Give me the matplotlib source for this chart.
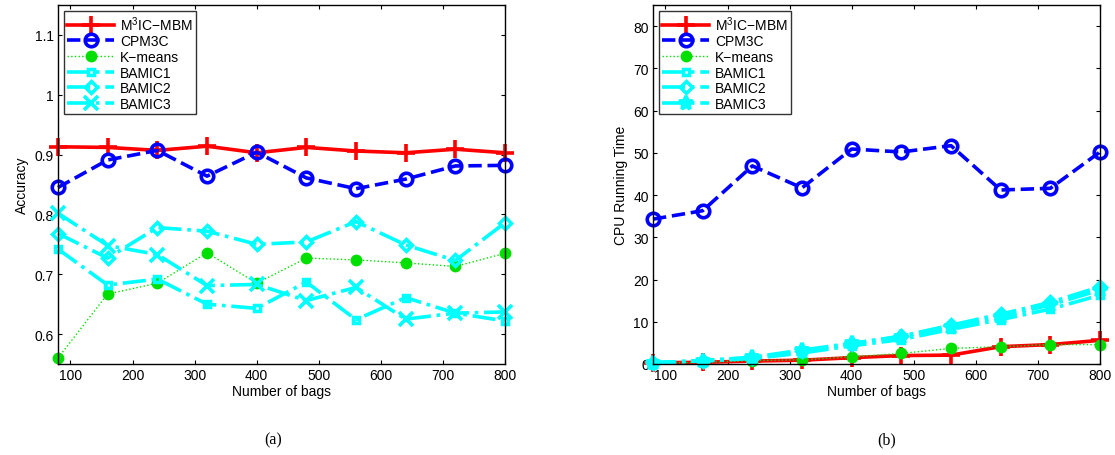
import numpy as np
import matplotlib
matplotlib.use("Agg")
import matplotlib.pyplot as plt

plt.rcParams["font.family"] = ["Liberation Sans", "DejaVu Sans"]
plt.rcParams["mathtext.fontset"] = "custom"
plt.rcParams["mathtext.rm"] = "Liberation Sans"

# Données
bags = [80, 160, 240, 320, 400, 480, 560, 640, 720, 800]
labels = ["M$^3$IC\u2212MBM", "CPM3C", "K\u2212means", "BAMIC1", "BAMIC2", "BAMIC3"]

# (a) précision
acc_m3ic = [0.913, 0.912, 0.907, 0.914, 0.903, 0.912, 0.906, 0.903, 0.909, 0.903]
acc_cpm3c = [0.845, 0.891, 0.907, 0.864, 0.904, 0.861, 0.843, 0.859, 0.881, 0.882]
acc_kmeans = [0.560, 0.667, 0.685, 0.736, 0.685, 0.727, 0.724, 0.719, 0.713, 0.735]
acc_bamic1 = [0.742, 0.682, 0.692, 0.650, 0.643, 0.687, 0.624, 0.661, 0.635, 0.622]
acc_bamic2 = [0.768, 0.727, 0.778, 0.772, 0.750, 0.754, 0.788, 0.749, 0.723, 0.786]
acc_bamic3 = [0.802, 0.748, 0.733, 0.681, 0.683, 0.656, 0.678, 0.625, 0.635, 0.637]

# (b) temps CPU
cpu_m3ic = [0.3, 0.4, 0.7, 0.9, 1.5, 2.0, 2.1, 4.1, 4.6, 5.6]
cpu_cpm3c = [34.3, 36.3, 46.9, 41.7, 50.9, 50.2, 51.7, 41.2, 41.6, 50.2]
cpu_kmeans = [0.2, 0.4, 0.8, 1.0, 1.7, 2.5, 3.7, 4.1, 4.6, 4.6]
cpu_bamic1 = [0.3, 0.7, 1.3, 2.6, 4.3, 5.8, 8.2, 10.5, 13.0, 16.3]
cpu_bamic2 = [0.3, 0.8, 1.5, 3.0, 4.8, 6.6, 9.2, 11.8, 14.6, 18.3]
cpu_bamic3 = [0.3, 0.8, 1.6, 3.3, 4.9, 6.5, 8.7, 11.2, 14.0, 17.5]

fig = plt.figure(figsize=(11.15, 4.56), dpi=100)
ax1 = fig.add_axes([58 / 1115, 91 / 456, 447 / 1115, 359 / 456])
ax2 = fig.add_axes([653 / 1115, 91 / 456, 447 / 1115, 359 / 456])


def draw(ax, series, x3marker):
    s = [
        dict(color="red", ls="-", lw=2.6, marker="+", ms=13, mew=2.6),
        dict(color="blue", ls="--", lw=2.6, marker="o", ms=9, mew=2.6, mfc="none"),
        dict(color="#00e000", ls=":", lw=1.0, marker="o", ms=7.5, mew=1, mfc="#00e000", mec="#00e000"),
        dict(color="cyan", ls="-.", lw=2.6, marker="s", ms=5, mew=2.5, mfc="none"),
        dict(color="cyan", ls="-.", lw=2.6, marker="D", ms=6.5, mew=2.5, mfc="none"),
        dict(color="cyan", ls="-.", lw=2.6, marker=x3marker, ms=10, mew=2.6),
    ]
    for y, st, lab in zip(series, s, labels):
        ax.plot(bags, y, label=lab, clip_on=False, **st)
    ax.set_xlim(80, 800)
    ax.set_xticks(range(100, 801, 100))
    ax.tick_params(direction="in", top=True, right=True, labelsize=10, length=3, pad=3)
    for sp in ax.spines.values():
        sp.set_linewidth(1.0)
    ax.set_xlabel("Number of bags", fontsize=10, labelpad=1)
    leg = ax.legend(loc="upper left", fontsize=10, handlelength=3.4, borderaxespad=0.4,
                    labelspacing=0.12, handletextpad=0.4, fancybox=False,
                    edgecolor="black", borderpad=0.25)
    leg.get_frame().set_linewidth(1.0)


draw(ax1, [acc_m3ic, acc_cpm3c, acc_kmeans, acc_bamic1, acc_bamic2, acc_bamic3], "x")
ax1.set_ylim(0.55, 1.15)
ax1.set_yticks([0.6, 0.7, 0.8, 0.9, 1.0, 1.1])
ax1.set_yticklabels(["0.6", "0.7", "0.8", "0.9", "1", "1.1"])
ax1.set_ylabel("Accuracy", fontsize=10, labelpad=4)

draw(ax2, [cpu_m3ic, cpu_cpm3c, cpu_kmeans, cpu_bamic1, cpu_bamic2, cpu_bamic3], "*")
ax2.set_ylim(0, 85)
ax2.set_yticks(range(0, 81, 10))
ax2.set_ylabel("CPU Running Time", fontsize=10, labelpad=4)

fig.text(273 / 1115, 1 - 440 / 456, "(a)", ha="center", va="center", fontsize=11.5, family="Liberation Serif")
fig.text(887 / 1115, 1 - 440 / 456, "(b)", ha="center", va="center", fontsize=11.5, family="Liberation Serif")

fig.savefig("out.png", dpi=100)
